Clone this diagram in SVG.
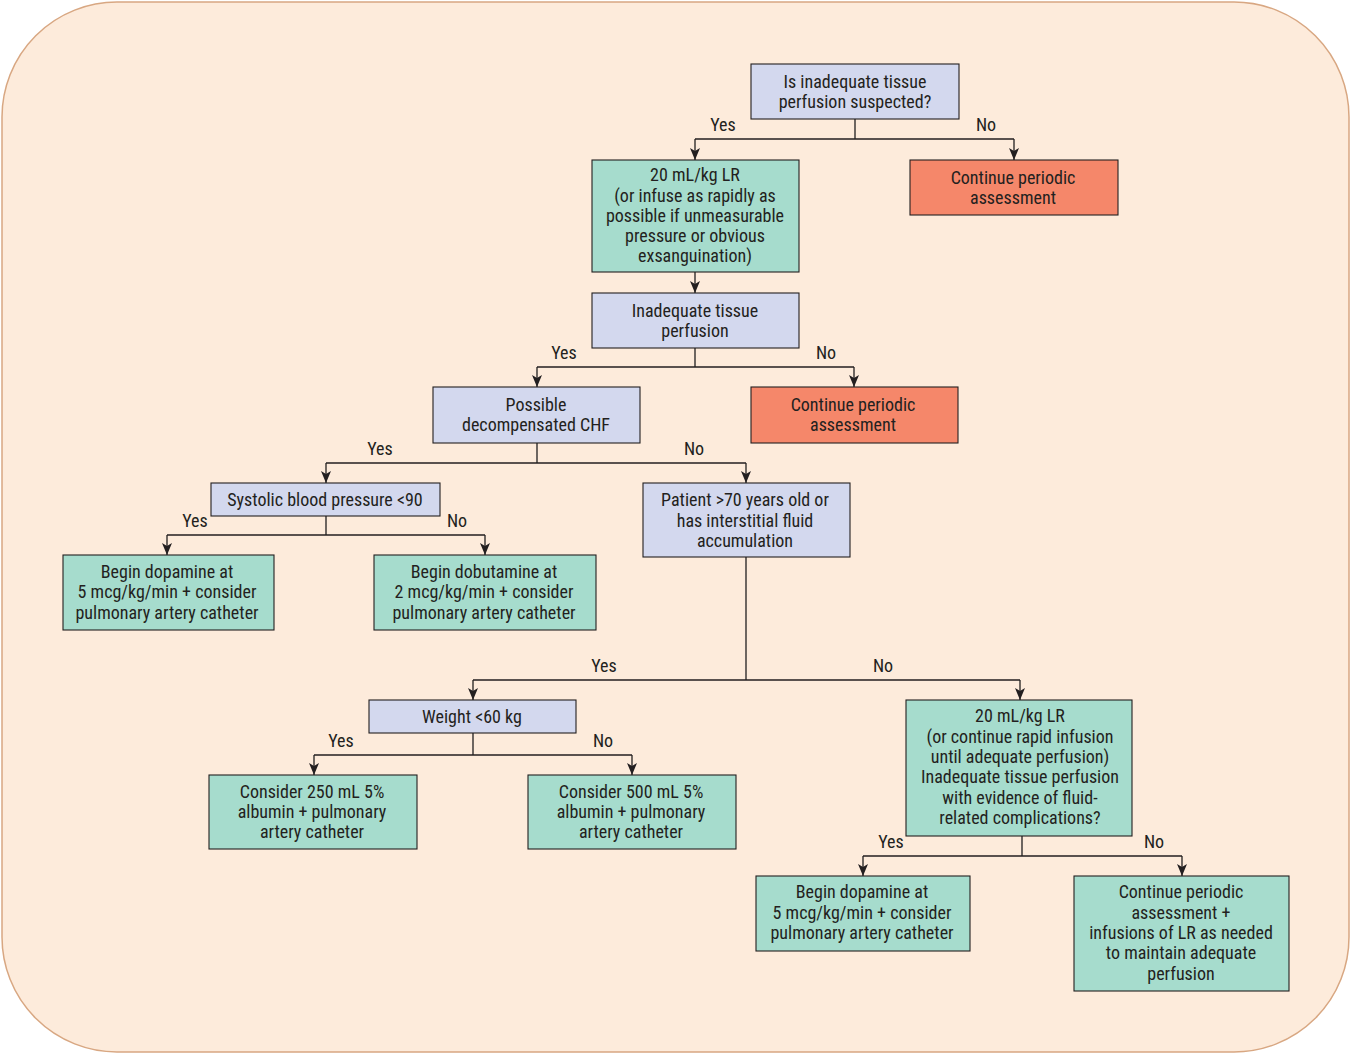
<svg xmlns="http://www.w3.org/2000/svg" width="1352" height="1055" viewBox="0 0 1352 1055">
<defs>
<marker id="ah" markerWidth="12" markerHeight="10" refX="12" refY="5" orient="auto" markerUnits="userSpaceOnUse" viewBox="0 0 12 10">
<path d="M0,0 L12,5 L0,10 L3,5 Z" fill="#231f20"/>
</marker>
<style>
text{font-family:"Liberation Sans Narrow","Roboto Condensed","Liberation Sans",sans-serif;font-size:18px;fill:#231f20;text-anchor:middle}
.b{fill:#d3d8ee;stroke:#231f20;stroke-width:1.1}
.g{fill:#a6dccd;stroke:#231f20;stroke-width:1.1}
.o{fill:#f5876a;stroke:#231f20;stroke-width:1.1}
.c path{fill:none;stroke:#231f20;stroke-width:1.3}
.c path.a{marker-end:url(#ah)}
</style>
</defs>
<rect x="2" y="2" width="1347" height="1050" rx="115" ry="115" fill="#fdebdb" stroke="#d8a782" stroke-width="1.5"/>

<g id="connectors" class="c">
<path d="M855,119 V139 M695,139 H1014"/>
<path class="a" d="M695,139 V160"/>
<path class="a" d="M1014,139 V160"/>
<path class="a" d="M695,272 V293"/>
<path d="M695,348 V367 M537,367 H854"/>
<path class="a" d="M537,367 V387"/>
<path class="a" d="M854,367 V387"/>
<path d="M537,443 V463 M326,463 H746"/>
<path class="a" d="M326,463 V483"/>
<path class="a" d="M746,463 V483"/>
<path d="M326,516 V535 M167,535 H485"/>
<path class="a" d="M167,535 V555"/>
<path class="a" d="M485,535 V555"/>
<path d="M746,557 V680 M473,680 H1020"/>
<path class="a" d="M473,680 V700"/>
<path class="a" d="M1020,680 V700"/>
<path d="M473,733 V755 M314,755 H632"/>
<path class="a" d="M314,755 V775"/>
<path class="a" d="M632,755 V775"/>
<path d="M1022,836 V856 M863,856 H1182"/>
<path class="a" d="M863,856 V876"/>
<path class="a" d="M1182,856 V876"/>
<text x="723" y="131">Yes</text>
<text x="986" y="131">No</text>
<text x="564" y="359">Yes</text>
<text x="826" y="359">No</text>
<text x="380" y="455">Yes</text>
<text x="694" y="455">No</text>
<text x="195" y="527">Yes</text>
<text x="457" y="527">No</text>
<text x="604" y="672">Yes</text>
<text x="883" y="672">No</text>
<text x="341" y="747">Yes</text>
<text x="603" y="747">No</text>
<text x="891" y="848">Yes</text>
<text x="1154" y="848">No</text>
</g>

<g id="n1"><rect class="b" x="751" y="64" width="208" height="55"/>
<text x="855" y="88">Is inadequate tissue</text><text x="855" y="108">perfusion suspected?</text></g>
<g id="n2"><rect class="g" x="592" y="160" width="207" height="112"/>
<text x="695" y="181">20 mL/kg LR</text><text x="695" y="202">(or infuse as rapidly as</text><text x="695" y="222">possible if unmeasurable</text><text x="695" y="242">pressure or obvious</text><text x="695" y="262">exsanguination)</text></g>
<g id="n3"><rect class="o" x="910" y="160" width="208" height="55"/>
<text x="1013" y="184">Continue periodic</text><text x="1013" y="204">assessment</text></g>
<g id="n4"><rect class="b" x="592" y="293" width="207" height="55"/>
<text x="695" y="317">Inadequate tissue</text><text x="695" y="337">perfusion</text></g>
<g id="n5"><rect class="b" x="433" y="387" width="207" height="56"/>
<text x="536" y="411">Possible</text><text x="536" y="431">decompensated CHF</text></g>
<g id="n6"><rect class="o" x="751" y="387" width="207" height="56"/>
<text x="853" y="411">Continue periodic</text><text x="853" y="431">assessment</text></g>
<g id="n7"><rect class="b" x="211" y="483" width="229" height="33"/>
<text x="325" y="506">Systolic blood pressure &lt;90</text></g>
<g id="n8"><rect class="b" x="643" y="483" width="207" height="74"/>
<text x="745" y="506">Patient &gt;70 years old or</text><text x="745" y="527">has interstitial fluid</text><text x="745" y="547">accumulation</text></g>
<g id="n9"><rect class="g" x="63" y="555" width="211" height="75"/>
<text x="167" y="578">Begin dopamine at</text><text x="167" y="598">5 mcg/kg/min + consider</text><text x="167" y="619">pulmonary artery catheter</text></g>
<g id="n10"><rect class="g" x="374" y="555" width="222" height="75"/>
<text x="484" y="578">Begin dobutamine at</text><text x="484" y="598">2 mcg/kg/min + consider</text><text x="484" y="619">pulmonary artery catheter</text></g>
<g id="n11"><rect class="b" x="369" y="700" width="207" height="33"/>
<text x="472" y="723">Weight &lt;60 kg</text></g>
<g id="n12"><rect class="g" x="906" y="700" width="226" height="136"/>
<text x="1020" y="722">20 mL/kg LR</text><text x="1020" y="743">(or continue rapid infusion</text><text x="1020" y="763">until adequate perfusion)</text><text x="1020" y="783">Inadequate tissue perfusion</text><text x="1020" y="804">with evidence of fluid-</text><text x="1020" y="824">related complications?</text></g>
<g id="n13"><rect class="g" x="209" y="775" width="208" height="74"/>
<text x="312" y="798">Consider 250 mL 5%</text><text x="312" y="818">albumin + pulmonary</text><text x="312" y="838">artery catheter</text></g>
<g id="n14"><rect class="g" x="528" y="775" width="208" height="74"/>
<text x="631" y="798">Consider 500 mL 5%</text><text x="631" y="818">albumin + pulmonary</text><text x="631" y="838">artery catheter</text></g>
<g id="n15"><rect class="g" x="756" y="876" width="214" height="75"/>
<text x="862" y="898">Begin dopamine at</text><text x="862" y="919">5 mcg/kg/min + consider</text><text x="862" y="939">pulmonary artery catheter</text></g>
<g id="n16"><rect class="g" x="1074" y="876" width="215" height="115"/>
<text x="1181" y="898">Continue periodic</text><text x="1181" y="919">assessment +</text><text x="1181" y="939">infusions of LR as needed</text><text x="1181" y="959">to maintain adequate</text><text x="1181" y="980">perfusion</text></g>
</svg>
